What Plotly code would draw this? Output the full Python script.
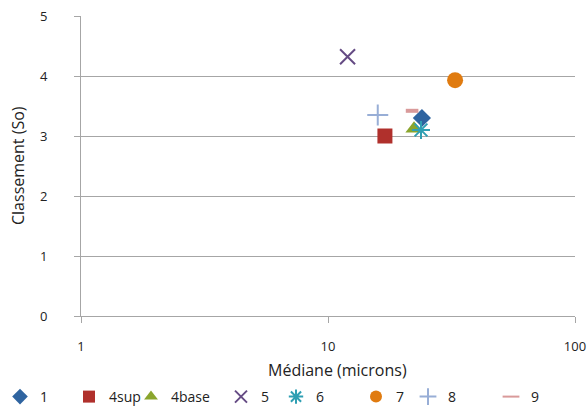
import plotly.graph_objects as go

# Échantillons : médiane granulométrique (microns) et classement (So)
samples = ["1", "4sup", "4base", "5", "6", "7", "8", "9"]
mediane = [24.0, 17.0, 22.3, 12.0, 23.8, 32.7, 15.9, 21.9]
classement = [3.30, 3.00, 3.12, 4.32, 3.10, 3.93, 3.35, 3.42]

colors = ["#2f64a0", "#b0302c", "#8aa52d", "#654b84", "#2f9fb3", "#e07b10", "#98aed6", "#d99a9a"]
symbols = ["diamond", "square", "triangle-up", "x-thin-open", "asterisk-open",
           "circle", "cross-thin-open", "line-ew-open"]
sizes = [14, 15, 15, 15, 15, 16, 15, 9]
line_widths = [0, 0, 0, 2, 2, 0, 2, 4]

# Position horizontale (px) du symbole de chaque entrée de légende
legend_px = [12, 88, 150, 240, 295, 375, 427, 510]

W, H = 587, 409
ML, MR, MT, MB = 81, 12, 16, 93

fig = go.Figure()
legends = {}
for i, (name, x, y, c, s, sz, lw) in enumerate(
        zip(samples, mediane, classement, colors, symbols, sizes, line_widths)):
    key = "legend" if i == 0 else f"legend{i + 1}"
    fig.add_trace(go.Scatter(
        x=[x], y=[y], name=name, mode="markers", legend=key, showlegend=True,
        marker=dict(symbol=s, size=sz, color=c, line=dict(color=c, width=lw)),
    ))
    legends[key] = dict(
        orientation="h", xref="container", x=max(legend_px[i] - 19, 0) / W, xanchor="left",
        yref="container", y=1 - 397 / H, yanchor="middle",
        font=dict(size=14), itemsizing="constant", bgcolor="rgba(0,0,0,0)",
    )

axis_color = "#a6a6a6"
title_font = dict(family="Open Sans", size=16, color="#222")
fig.update_layout(
    width=W, height=H, showlegend=True,
    margin=dict(l=ML, r=MR, t=MT, b=MB, autoexpand=False),
    paper_bgcolor="white", plot_bgcolor="white",
    font=dict(family="Open Sans", size=13, color="#222"),
    xaxis=dict(
        type="log", range=[0, 2], tickvals=[1, 10, 100], ticktext=["1", "10", "100"],
        showgrid=False, showline=True, linecolor=axis_color, linewidth=1,
        ticks="outside", ticklen=6, tickcolor=axis_color, ticklabelstandoff=12,
        zeroline=False, automargin=False,
    ),
    yaxis=dict(
        range=[0, 5], dtick=1, showgrid=True, gridcolor=axis_color, gridwidth=1,
        showline=True, linecolor=axis_color, linewidth=1,
        ticks="outside", ticklen=6, tickcolor=axis_color, ticklabelstandoff=24,
        zeroline=False, automargin=False,
    ),
    annotations=[
        dict(text="Médiane (microns)", xref="paper", yref="paper", x=0.52, y=-0.18,
             xanchor="center", yanchor="middle", showarrow=False, font=title_font),
        dict(text="Classement (So)", xref="paper", x=0, xanchor="center",
             yref="paper", y=0.5, yanchor="middle", xshift=-63, textangle=-90,
             showarrow=False, font=title_font),
    ],
    **legends,
)

fig.write_html("out.html")
